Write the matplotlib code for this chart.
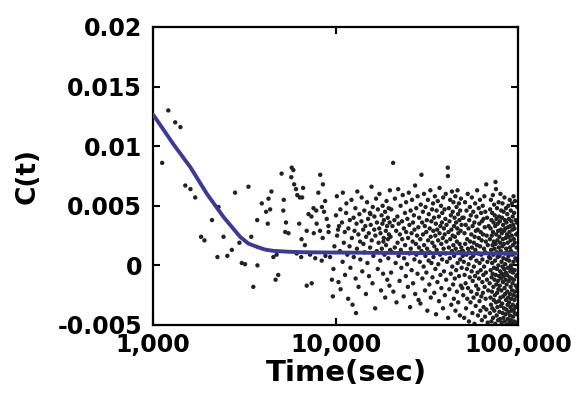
import matplotlib
matplotlib.use("Agg")
import matplotlib.pyplot as plt
import numpy as np

# ---------------- data (C values in units of 1e-4) ----------------
t_a = [1210, 1320, 1410, 1120, 1500, 1600, 1700, 2280, 2100, 1830,
       1910, 2250, 2430, 2550, 2700, 2810, 2970, 3060, 3190, 3330,
       3450, 3540, 3730]
c_a = [130, 120, 116, 86, 67, 64, 57, 49, 38, 24,
       21, 7, 24, 8, 13, 61, 19, 2, 1, 66,
       24, -18, 0]

t_b = [3720, 3940, 4160, 4290, 4380, 4250, 4560, 4750, 4690, 4850,
       5060, 5170, 5200, 5350, 5300, 5750, 5870, 5720, 5930, 6070,
       6170, 6370, 6640, 6560, 5520, 6320, 6510, 6790, 6950, 7400,
       7110, 7380, 7570, 7840, 8050, 8240, 8530, 8420, 8650, 8770,
       8950, 9140, 7880, 8220, 8500, 9160, 9340, 9550, 9670, 9740,
       9860, 7250, 6480, 7740, 6120, 7600, 6950, 8800, 8400, 4450]
c_b = [38, 52, 45, 56, 47, 35, 7, 9, -12, -8,
       77, 46, 55, 36, 28, 82, 80, 74, 68, 64,
       59, 57, 65, 57, 27, 35, 22, 17, -17, -15,
       43, 41, 48, 46, 61, 76, 68, 49, 45, 54,
       39, 33, 35, 29, 23, 28, 7, -12, -26, -3,
       16, 9, 7, 6, 10, 27, 29, 8, 4, 62]

t_c = [10060, 10170, 10200, 10380, 10450, 10570, 10630, 10660, 10850, 10940,
       10970, 11100, 11240, 11280, 11430, 11470, 11600, 11730, 11760, 11940,
       11980, 12070, 12230, 12290, 12400, 12560, 12590, 12710, 12850, 12890,
       13040, 13110, 13170, 13350, 13380, 13520, 13640, 13680, 13870, 13910,
       14020, 14180, 14220, 14380, 14420, 14570, 14680, 14720, 14900, 14960,
       15090, 15220, 15260, 15430, 15480, 15600, 15760, 15800, 15950, 16000,
       16130, 16310, 16340, 16500, 16540, 16690, 16830, 16870, 17050, 17080,
       17230, 17380, 17410, 17600, 17640, 17770, 17890, 17940, 18080, 18130,
       18240, 18390, 18420, 18560, 18700, 18730, 18880, 18930, 19040, 19180,
       19220, 19350, 19390, 19480, 19570, 19630, 19760, 19800, 19870, 19950,
       10320, 12950, 15550, 18300]
c_c = [42, 58, 25, -14, 33, 12, 47, -20, 36, 3,
       61, 19, 28, -8, 44, 52, 9, -28, 31, 16,
       38, -2, 55, 23, -33, 40, 7, 29, 48, -11,
       35, 14, 62, 26, -18, 43, 20, 5, 37, 57,
       -5, 30, 18, 46, 11, 33, -24, 24, 53, 2,
       39, 27, -9, 44, 15, 34, 66, 21, -15, 49,
       8, 30, 41, -36, 25, 56, 12, 36, -3, 47,
       19, 31, 60, 4, 27, -21, 42, 14, 35, 50,
       -7, 23, 38, 9, 45, -27, 29, 17, 54, 33,
       -12, 40, 22, 6, 48, 26, -17, 36, 63, 13,
       30, -40, 43, 20]

t_d = [20040, 20170, 20210, 20430, 20520, 20700, 20760, 21030, 21140, 21170,
       21370, 21520, 21600, 21840, 21890, 22060, 22180, 22200, 22460, 22560,
       22750, 22820, 22960, 23170, 23210, 23370, 23650, 23700, 23780, 24040,
       24090, 24300, 24390, 24410, 24690, 24780, 24940, 25010, 25230, 25400,
       25430, 25640, 25820, 25870, 26120, 26150, 26290, 26480, 26610, 26640,
       26900, 27080, 27110, 27330, 27370, 27600, 27720, 27760, 28010, 28170,
       28200, 28460, 28540, 28700, 28760, 28990, 29180, 29230, 29340, 29600,
       29640, 29880, 29950, 30150, 30190, 30430, 30580, 30610, 30870, 30970,
       31110, 31180, 31460, 31500, 31680, 31830, 31890, 32120, 32200, 32420,
       32470, 32700, 32860, 32900, 33130, 33260, 33300, 33560, 33610, 33840,
       33960, 34010, 34270, 34390, 34440, 34690, 34800, 34840, 35090, 35270,
       35300, 35500, 35610, 35830, 35880, 36140, 36210, 36380, 36570, 36620,
       36880, 36950, 37190, 37220, 37470, 37590, 37650, 37910, 38020, 38080,
       38330, 38450, 38500, 38760, 38880, 38940, 39170, 39300, 39350, 39620,
       39710, 39790, 40040, 40190, 40230, 40450, 40580, 40640, 41300, 40890,
       41360, 41440, 41660, 41800, 41830, 42090, 42170, 42350, 42540, 42590,
       42850, 42920, 43150, 43190, 43460, 43530, 43700, 43890, 43930, 44150,
       44290, 44340, 44570, 44680, 44730, 44990, 45100, 45160, 45410, 45490,
       45600, 45870, 45910, 46110, 46290, 46330, 46560, 46690, 46740, 47010,
       47100, 47160, 47420, 47530, 47580, 47840, 47920, 48090, 48260, 48310,
       48550, 48700, 48740, 48980, 49130, 49190, 49440, 49570, 49620, 49880]
c_d = [24, -6, 47, 11, 33, 86, -22, 38, 15, 56,
       2, 29, -31, 41, 19, 64, 8, 35, -13, 26,
       50, 13, -2, 37, 22, 59, -26, 31, 6, 44,
       17, -9, 53, 28, 1, 39, -18, 23, 61, 10,
       34, -35, 46, 14, 27, -4, 55, 20, 36, -15,
       42, 5, 30, 67, -24, 18, 48, 9, 25, -7,
       58, 32, -29, 15, 40, 3, 22, -32, 51, 76,
       12, 36, -11, 45, 26, -1, 60, 17, 33, -21,
       8, 49, 28, -6, 38, 14, -38, 55, 21, 4,
       43, -16, 31, 11, 63, 24, -27, 37, 2, 47,
       19, -10, 52, 29, 7, 40, -23, 16, 58, 25,
       -3, 35, -41, 46, 13, 30, -14, 54, 21, 1,
       41, -30, 27, 65, 9, 33, -8, 50, 18, -19,
       36, 5, 44, 23, -36, 57, 14, 31, -5, 47,
       26, -25, 39, 10, 60, -12, 20, 34, 82, 3,
       75, -44, 28, 48, 15, -20, 37, 6, 55, 22,
       -7, 42, -33, 30, 12, 62, -1, 25, 45, -16,
       17, 53, -28, 33, 8, 40, -11, 24, 58, -38,
       14, 36, -4, 49, 20, -22, 31, 63, 2, 43,
       -31, 27, 11, 52, -9, 38, 18, -42, 46, 5,
       29, -17, 56, 15, 34, -2, 12, -19, 40, 8]

t_e = [50080, 50190, 50460, 50530, 50770, 50980, 51040, 51330, 51420, 51690,
       51760, 51990, 52240, 52290, 52560, 52720, 52800, 53090, 53240, 53310,
       53620, 53700, 53930, 54110, 54170, 54480, 54600, 54710, 54990, 55130,
       55200, 55490, 55580, 55810, 55990, 56040, 56330, 56470, 56560, 56870,
       56950, 57160, 57380, 57430, 57720, 57860, 57940, 58230, 58350, 58470,
       58760, 58820, 59070, 59270, 59310, 59600, 59740, 59830, 60130, 60220,
       60430, 60640, 60700, 60990, 61110, 61190, 61480, 61630, 61700, 61980,
       62080, 62300, 62500, 62560, 62850, 62960, 63070, 63350, 63490, 63560,
       63860, 63930, 64180, 64380, 64420, 64710, 64850, 64930, 65230, 65340,
       65530, 65760, 65810, 66100, 66230, 66310, 66600, 66750, 66830, 67120,
       67230, 67480, 67740, 67820, 68110, 68350, 68430, 68790, 69180, 69560]
c_e = [12, -25, 40, 3, -44, 27, -8, 53, 18, -15,
       34, -36, 9, 46, -3, 22, -28, 60, 14, -19,
       31, 1, -47, 38, 11, -10, 49, 20, -31, 6,
       42, -22, 26, -5, 57, 15, -40, 33, -13, 8,
       45, -27, 19, -1, 36, -49, 24, -9, 52, 13,
       -34, 29, -17, 4, 41, -24, 17, 63, -6, 30,
       -42, 10, -20, 48, 23, -11, 35, -30, 2, 55,
       16, -38, 28, -4, 44, 9, -26, 21, -46, 37,
       -14, 5, 50, -23, 26, -8, 39, -35, 14, -1,
       58, -18, 32, -43, 11, 45, -28, 20, -6, 68,
       -37, 25, -12, 40, 3, -48, 17, -21, 33, 7]

t_f = [70040, 70230, 70270, 70480, 70560, 70790, 70850, 70910, 71180, 71260,
       71410, 71620, 71650, 71830, 71990, 72050, 72300, 72360, 72470, 72700,
       72740, 72960, 73060, 73180, 73390, 73420, 73650, 73770, 73810, 74060,
       74120, 74280, 74470, 74530, 74760, 74810, 74990, 75150, 75210, 75440,
       75520, 75660, 75870, 75910, 76140, 76200, 76390, 76530, 76600, 76820,
       76890, 77050, 77250, 77300, 77520, 77580, 77780, 77910, 77990, 78190,
       78270, 78440, 78630, 78690, 78900, 78960, 79170, 79290, 79380, 79570,
       79650, 79830, 80010, 80080, 80280, 80350, 80560, 80670, 80770, 80950,
       81040, 81220, 81390, 81470, 81660, 81740, 81950, 82050, 82160, 82330,
       82430, 82610, 82770, 82860, 83040, 83130, 83340, 83430, 83550, 83710,
       83820, 84000, 84150, 84250, 84420, 84520, 84730, 84810, 84940, 85090,
       85210, 85390, 85530, 85640, 85800, 85910, 86120, 86190, 86330, 86470,
       86600, 86780, 86910, 87030, 87180, 87300, 87510, 87570, 87720, 87850,
       87990, 88170, 88290, 88420, 88560, 88690, 88900, 88950, 89110, 89230,
       89380, 89560, 89670, 89810, 89940, 90080, 90290, 90330, 90500, 90610,
       90770, 90950, 91050, 91200, 91320, 91470, 91680, 91710, 91890, 91990,
       92160, 92340, 92430, 92590, 92700, 92860, 93070, 93100, 93280, 93370,
       93550, 93730, 93810, 93980, 94080, 94250, 94460, 94490, 94670, 94750,
       94940, 95120, 95190, 95370, 95460, 95640, 95850, 95880, 96060, 96130,
       96250, 96440, 96610, 96870, 97060, 97250, 97490, 97680, 97900, 98100,
       98270, 98500, 98640, 98870, 99040, 99230, 99410, 99600, 99780, 99960]
c_f = [-15, 22, -40, 47, 6, -27, 31, -4, 55, -33,
       13, -47, 38, -10, 25, -22, 2, 44, -36, 17,
       -7, 59, 28, -44, 9, -18, 36, -29, 20, -2,
       51, -38, 14, -12, 42, -25, 4, 33, -49, 70,
       18, -8, 64, -31, 26, -16, 39, -42, 11, -3,
       48, -23, 21, -35, 7, 35, -13, -46, 29, 0,
       -20, 53, 15, -30, 41, -9, 24, -39, 8, -17,
       37, -45, 19, -5, 60, -27, 12, -34, 30, -11,
       46, -21, 3, -48, 27, -7, 40, -32, 16, -1,
       52, -40, 22, -14, 34, -26, 6, -44, 45, -9,
       18, -36, 29, -3, 57, -19, 10, -47, 38, -24,
       1, 31, -12, -41, 23, -6, 48, -29, 14, -37,
       36, -16, 5, -50, 26, -8, 43, -22, 11, -33,
       19, -45, 32, -2, -27, 50, 8, -39, 24, -13,
       39, -31, 4, -48, 28, -10, 55, -24, 15, -42,
       33, -5, -35, 21, -18, 46, 0, -46, 12, -28,
       37, -11, -38, 25, -3, 52, -21, 9, -49, 30,
       -15, 41, -33, 17, -6, -43, 34, -25, 3, 58,
       -37, 22, -12, 44, -47, 10, -29, 31, -4, -40,
       19, 54, -22, 6, -35, 38, -17, -48, 26, -9,
       -26, 15, -41, 36, -8, 49, -19, 4, -33, 27]

# fitted curve (C in units of 1e-4)
t_fit = [1000, 1290, 1600, 1970, 2430, 3000, 3330, 3700, 4100, 4560,
         5600, 6950, 10000, 20000, 50000, 100000]
c_fit = [126.4, 101.7, 82.3, 60.0, 40.6, 23.9, 18.3, 15.6, 13.3, 12.2,
         11.4, 11.0, 10.8, 10.5, 10.2, 10.0]

x_ticks = [1000, 10000, 100000]
x_tick_labels = ["1,000", "10,000", "100,000"]
y_ticks = [-0.005, 0, 0.005, 0.01, 0.015, 0.02]
y_tick_labels = ["-0.005", "0", "0.005", "0.01", "0.015", "0.02"]

# ---------------- plot ----------------
plt.rcParams['font.family'] = ['DejaVu Sans']
plt.rcParams['font.weight'] = 'bold'

fig = plt.figure(figsize=(5.76, 4.0), dpi=100)
ax = fig.add_axes([0.266, 0.1875, 0.633, 0.745])

t_all = np.array(t_a + t_b + t_c + t_d + t_e + t_f, dtype=float)
c_all = np.array(c_a + c_b + c_c + c_d + c_e + c_f, dtype=float) * 1e-4

ax.scatter(t_all, c_all, s=10, color='#222222', edgecolors='none', zorder=2)
ax.plot(np.array(t_fit, dtype=float), np.array(c_fit) * 1e-4,
        color='#3b3a96', lw=2.8, zorder=3, solid_capstyle='round')

ax.set_xscale('log')
ax.set_xlim(1000, 100000)
ax.set_ylim(-0.005, 0.02)
ax.set_xticks(x_ticks)
ax.set_xticklabels(x_tick_labels)
ax.xaxis.set_minor_locator(matplotlib.ticker.NullLocator())
ax.set_yticks(y_ticks)
ax.set_yticklabels(y_tick_labels)

ax.tick_params(axis='both', which='major', direction='in', length=5, width=1.5,
               top=True, right=True, labelsize=17)
ax.tick_params(axis='y', pad=8)
ax.tick_params(axis='x', pad=6)
for lab in ax.get_xticklabels() + ax.get_yticklabels():
    lab.set_fontweight('bold')
for sp in ax.spines.values():
    sp.set_linewidth(1.6)

ax.set_xlabel("Time(sec)", fontsize=21, fontweight='bold', labelpad=0)
ax.xaxis.set_label_coords(0.53, -0.115)
ax.xaxis.label.set_va('top')
ax.set_ylabel("C(t)", fontsize=19, fontweight='bold')
ax.yaxis.set_label_coords(-0.31, 0.5)

fig.savefig("out.png", dpi=100)
